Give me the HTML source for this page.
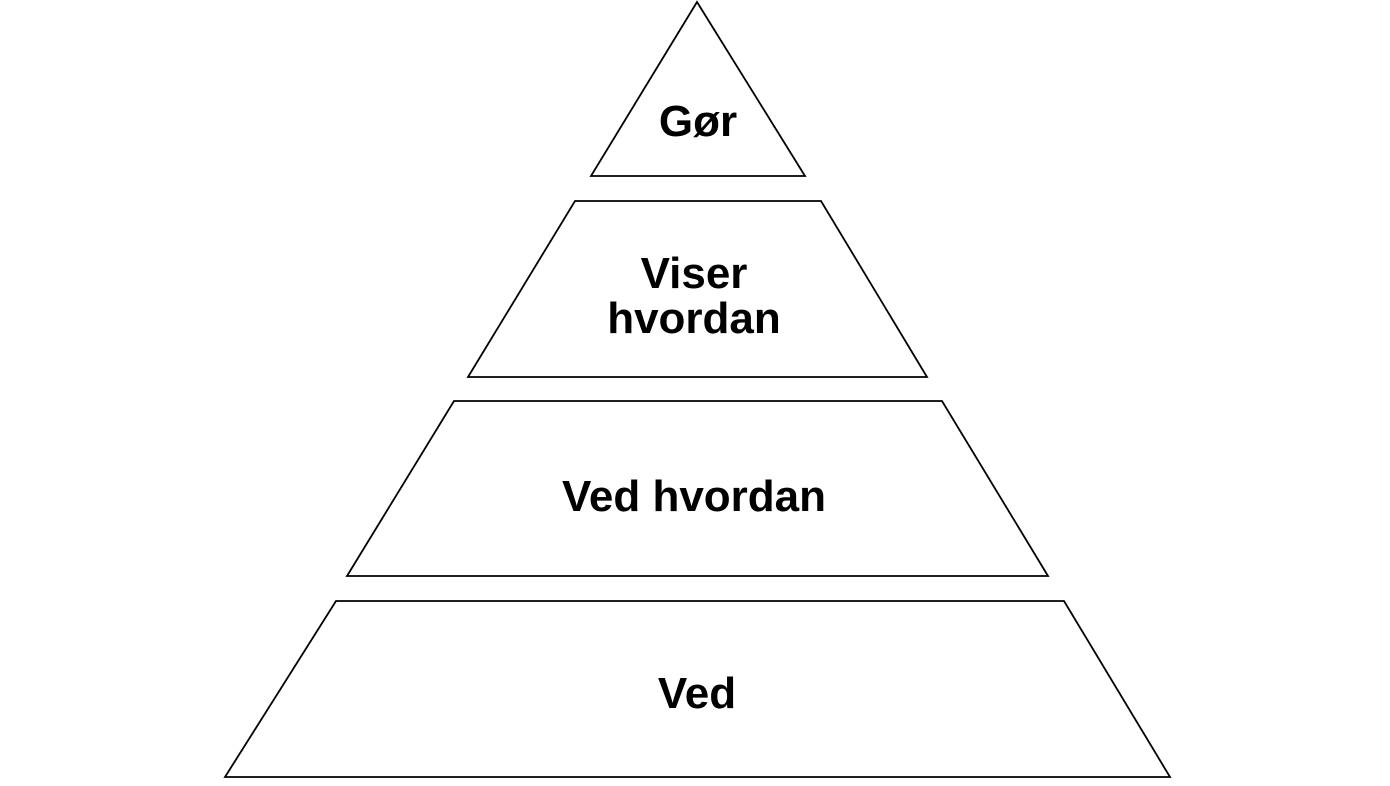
<!DOCTYPE html>
<html><head><meta charset="utf-8"><style>
html,body{margin:0;padding:0;background:#fff;}
</style></head><body>
<svg width="1390" height="781" viewBox="0 0 1390 781" xmlns="http://www.w3.org/2000/svg">
<g fill="#fff" stroke="#000" stroke-width="1.8" stroke-linejoin="miter">
<polygon points="697,2 805,176 591,176"/>
<polygon points="575,201 821,201 927,377 468,377"/>
<polygon points="454,401 942,401 1048,576 347,576"/>
<polygon points="336,601 1064,601 1170,777 225,777"/>
</g>
<g font-family="Liberation Sans, Arial, sans-serif" font-weight="bold" font-size="44" text-anchor="middle" fill="#000">
<text x="698" y="136">Gør</text>
<text x="694" y="288">Viser</text>
<text x="694" y="333">hvordan</text>
<text x="694" y="511">Ved hvordan</text>
<text x="697" y="708">Ved</text>
</g>
</svg>
</body></html>
